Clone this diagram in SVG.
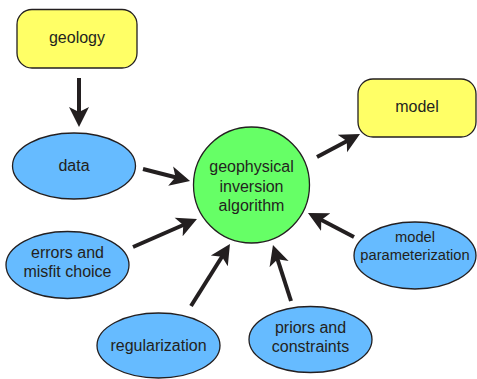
<svg xmlns="http://www.w3.org/2000/svg" width="477" height="379" viewBox="0 0 477 379">
<defs>
<marker id="ah" markerUnits="userSpaceOnUse" markerWidth="24" markerHeight="24" refX="15" refY="10" orient="auto" viewBox="0 0 24 20">
<path d="M0,0 L20,10 L0,20 L5,10 Z" fill="#231f20"/>
</marker>
</defs>
<style>
.box{fill:#ffff66;stroke:#231f20;stroke-width:1.3}
.ell{fill:#66bbff;stroke:#231f20;stroke-width:1.3}
.cir{fill:#66ff66;stroke:#231f20;stroke-width:1.3}
.t{font-family:"Liberation Sans",Arial,sans-serif;font-size:16px;fill:#231f20;text-anchor:middle}
.s{font-size:14.7px}
.c{fill:none;stroke:#231f20;stroke-width:4;marker-end:url(#ah)}
</style>
<g id="connectors">
<line class="c" x1="79" y1="78" x2="79" y2="122"/>
<line class="c" x1="143" y1="169" x2="185.2" y2="179.8"/>
<line class="c" x1="317" y1="157" x2="355.6" y2="136.4"/>
<line class="c" x1="133" y1="247" x2="192.4" y2="221"/>
<line class="c" x1="191" y1="306" x2="227.3" y2="248.2"/>
<line class="c" x1="291" y1="301" x2="274.5" y2="249.8"/>
<line class="c" x1="354" y1="237" x2="312.4" y2="215.3"/>
</g>
<g id="geology">
<rect class="box" x="17" y="9.5" width="120" height="58.5" rx="15"/>
<text class="t" x="77" y="43">geology</text>
</g>
<g id="model">
<rect class="box" x="358" y="79" width="118" height="58" rx="15"/>
<text class="t" x="417" y="112">model</text>
</g>
<g id="data">
<ellipse class="ell" cx="74" cy="166" rx="61.5" ry="33"/>
<text class="t" x="74" y="171">data</text>
</g>
<g id="inversion">
<circle class="cir" cx="251.5" cy="185" r="58"/>
<text class="t" x="251.5" y="172">geophysical</text>
<text class="t" x="251.5" y="192">inversion</text>
<text class="t" x="251.5" y="211">algorithm</text>
</g>
<g id="errors">
<ellipse class="ell" cx="67.5" cy="265" rx="61.5" ry="33.5"/>
<text class="t" x="67.5" y="258">errors and</text>
<text class="t" x="67.5" y="277">misfit choice</text>
</g>
<g id="regularization">
<ellipse class="ell" cx="158.5" cy="345.5" rx="61.5" ry="32.5"/>
<text class="t" x="158.5" y="351">regularization</text>
</g>
<g id="priors">
<ellipse class="ell" cx="310.5" cy="339.5" rx="61.5" ry="33"/>
<text class="t" x="310.5" y="333">priors and</text>
<text class="t" x="310.5" y="352">constraints</text>
</g>
<g id="parameterization">
<ellipse class="ell" cx="415" cy="255.5" rx="61" ry="33.5"/>
<text class="t s" x="415" y="242">model</text>
<text class="t s" x="415" y="260">parameterization</text>
</g>
</svg>
